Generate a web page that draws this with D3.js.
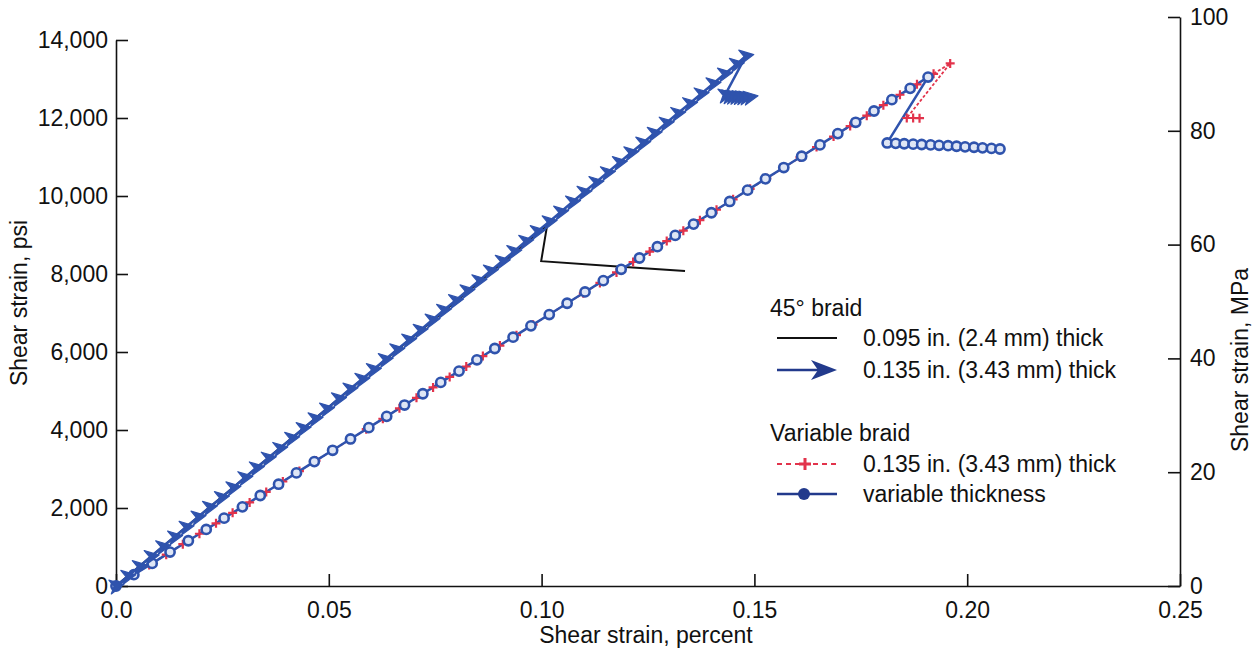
<!DOCTYPE html>
<html>
<head>
<meta charset="utf-8">
<script src="https://cdn.jsdelivr.net/npm/d3@7"></script>
<style>
  body { margin: 0; background: #fff; }
  svg text { font-family: "Liberation Sans", Arial, sans-serif; fill: #111; }
</style>
</head>
<body>
<svg width="1258" height="656"></svg>
<script>
// --- data: [shear strain %, shear stress psi] ---

// 45 deg braid, 0.095 in. thick (black line, no markers)
const braid45Thin = [
  [0, 0], [0.050, 4590], [0.1013, 9250], [0.0999, 8330], [0.1170, 8200], [0.1337, 8077]
];

// 45 deg braid, 0.135 in. thick (blue, arrow markers)
const braid45Thick = [
  [0, 0], [0.0028, 250], [0.0055, 500], [0.0083, 760], [0.0110, 1010], [0.0138, 1260],
  [0.0165, 1510], [0.0193, 1770], [0.0220, 2020], [0.0248, 2270], [0.0275, 2520],
  [0.0303, 2780], [0.0330, 3030], [0.0358, 3280], [0.0385, 3530], [0.0413, 3790],
  [0.0440, 4040], [0.0468, 4290], [0.0495, 4540], [0.0523, 4800], [0.0550, 5050],
  [0.0578, 5300], [0.0605, 5550], [0.0633, 5810], [0.0660, 6060], [0.0688, 6310],
  [0.0715, 6560], [0.0743, 6820], [0.0770, 7070], [0.0798, 7320], [0.0825, 7570],
  [0.0853, 7830], [0.0880, 8080], [0.0908, 8330], [0.0935, 8580], [0.0963, 8840],
  [0.0990, 9090], [0.1018, 9340], [0.1045, 9590], [0.1073, 9850], [0.1100, 10100],
  [0.1128, 10350], [0.1155, 10600], [0.1183, 10860], [0.1210, 11110], [0.1238, 11360],
  [0.1265, 11610], [0.1293, 11870], [0.1320, 12120], [0.1348, 12370], [0.1375, 12620],
  [0.1403, 12880], [0.1430, 13130], [0.1458, 13380], [0.1480, 13590],
  [0.1431, 12590], [0.1440, 12570], [0.1448, 12560], [0.1456, 12555], [0.1464, 12550],
  [0.1472, 12545], [0.1480, 12540], [0.1490, 12535]
];

// variable braid, 0.135 in. thick (red dashed, plus markers)
const varBraidThick = [
  [0, 0], [0.0039, 268], [0.0078, 536], [0.0118, 804], [0.0157, 1072], [0.0196, 1340],
  [0.0235, 1608], [0.0274, 1876], [0.0314, 2144], [0.0353, 2412], [0.0392, 2680],
  [0.0431, 2948], [0.0470, 3216], [0.0510, 3484], [0.0549, 3752], [0.0588, 4020],
  [0.0627, 4288], [0.0666, 4556], [0.0706, 4824], [0.0745, 5092], [0.0784, 5360],
  [0.0823, 5628], [0.0862, 5896], [0.0902, 6164], [0.0941, 6432], [0.0980, 6700],
  [0.1019, 6968], [0.1058, 7236], [0.1098, 7504], [0.1137, 7772], [0.1176, 8040],
  [0.1215, 8308], [0.1254, 8576], [0.1294, 8844], [0.1333, 9112], [0.1372, 9380],
  [0.1411, 9648], [0.1450, 9916], [0.1490, 10184], [0.1529, 10452], [0.1568, 10720],
  [0.1607, 10988], [0.1646, 11256], [0.1686, 11524], [0.1725, 11792], [0.1764, 12060],
  [0.1803, 12328], [0.1842, 12596], [0.1882, 12864], [0.1921, 13132], [0.1960, 13400],
  [0.1858, 12000], [0.1873, 12000], [0.1888, 11995]
];

// variable braid, variable thickness (blue, circle markers)
const varBraidVarThick = [
  [0, 0], [0.0042, 290], [0.0085, 580], [0.0127, 870], [0.0170, 1160], [0.0212, 1450],
  [0.0254, 1740], [0.0297, 2030], [0.0339, 2320], [0.0382, 2610], [0.0424, 2900],
  [0.0466, 3190], [0.0509, 3480], [0.0551, 3770], [0.0594, 4060], [0.0636, 4350],
  [0.0678, 4640], [0.0721, 4930], [0.0763, 5220], [0.0806, 5510], [0.0848, 5800],
  [0.0890, 6090], [0.0933, 6380], [0.0975, 6670], [0.1018, 6960], [0.1060, 7250],
  [0.1102, 7540], [0.1145, 7830], [0.1187, 8120], [0.1230, 8410], [0.1272, 8700],
  [0.1314, 8990], [0.1357, 9280], [0.1399, 9570], [0.1442, 9860], [0.1484, 10150],
  [0.1526, 10440], [0.1569, 10730], [0.1611, 11020], [0.1654, 11310], [0.1696, 11600],
  [0.1738, 11890], [0.1781, 12180], [0.1823, 12470], [0.1866, 12760], [0.1908, 13050],
  [0.1812, 11360], [0.1832, 11350], [0.1852, 11340], [0.1873, 11330], [0.1893, 11320],
  [0.1914, 11310], [0.1934, 11300], [0.1955, 11290], [0.1975, 11275], [0.1995, 11260],
  [0.2016, 11250], [0.2036, 11235], [0.2057, 11220], [0.2077, 11205]
];

// axis ticks
const xTicks = [0, 0.05, 0.10, 0.15, 0.20, 0.25];
const xTickLabels = ["0.0", "0.05", "0.10", "0.15", "0.20", "0.25"];
const psiTicks = [0, 2000, 4000, 6000, 8000, 10000, 12000, 14000];
const mpaTicks = [0, 20, 40, 60, 80, 100];

// legend entries
const legendGroups = ["45\u00b0 braid", "Variable braid"];
const legendLabels = [
  "0.095 in. (2.4 mm) thick",
  "0.135 in. (3.43 mm) thick",
  "0.135 in. (3.43 mm) thick",
  "variable thickness"
];

// --- layout ---
const plotLeft = 116, plotRight = 1180, plotBottom = 586;
const psiTop = 40, mpaTop = 17;
const blue = "#2f53ad", navy = "#223a8c", red = "#e2334b";
const tickFont = "23px", labelFont = "23px";

const svg = d3.select("svg");

// scales
const x = d3.scaleLinear().domain([0, 0.25]).range([plotLeft, plotRight]);
const yPsi = d3.scaleLinear().domain([0, 14000]).range([plotBottom, psiTop]);
const yMpa = d3.scaleLinear().domain([0, 100]).range([plotBottom, mpaTop]);

// X axis (ticks point inward)
const xAxis = svg.append("g")
  .attr("transform", `translate(0, ${plotBottom})`)
  .call(d3.axisBottom(x).tickValues(xTicks)
    .tickFormat((d, i) => xTickLabels[i])
    .tickSizeInner(-12).tickSizeOuter(0).tickPadding(16));

// left axis
const yAxisL = svg.append("g")
  .attr("transform", `translate(${plotLeft}, 0)`)
  .call(d3.axisLeft(yPsi).tickValues(psiTicks)
    .tickFormat(d3.format(","))
    .tickSizeInner(-12).tickSizeOuter(0).tickPadding(8));

// right axis
const yAxisR = svg.append("g")
  .attr("transform", `translate(${plotRight}, 0)`)
  .call(d3.axisRight(yMpa).tickValues(mpaTicks)
    .tickSizeInner(-12).tickSizeOuter(0).tickPadding(10));

[xAxis, yAxisL, yAxisR].forEach(a => {
  a.select(".domain").attr("stroke", "#111").attr("stroke-width", 1.6);
  a.selectAll(".tick line").attr("stroke", "#111").attr("stroke-width", 1.6);
  a.selectAll(".tick text").style("font-size", tickFont).attr("fill", "#111");
});

// axis titles
svg.append("text")
  .attr("x", 646).attr("y", 643)
  .attr("text-anchor", "middle")
  .style("font-size", labelFont)
  .text("Shear strain, percent");

svg.append("text")
  .attr("transform", "translate(27, 303) rotate(-90)")
  .attr("text-anchor", "middle")
  .style("font-size", labelFont)
  .text("Shear strain, psi");

svg.append("text")
  .attr("transform", "translate(1248, 360) rotate(-90)")
  .attr("text-anchor", "middle")
  .style("font-size", labelFont)
  .text("Shear strain, MPa");

// lines
const line = d3.line().x(d => x(d[0])).y(d => yPsi(d[1]));

svg.append("path").datum(braid45Thin)
  .attr("d", line).attr("fill", "none")
  .attr("stroke", "#111").attr("stroke-width", 2);

svg.append("path").datum(varBraidThick)
  .attr("d", line).attr("fill", "none")
  .attr("stroke", red).attr("stroke-width", 1.8)
  .attr("stroke-dasharray", "3,2");

svg.append("path").datum(varBraidVarThick)
  .attr("d", line).attr("fill", "none")
  .attr("stroke", blue).attr("stroke-width", 2.5);

// red plus markers
svg.append("g").selectAll("path")
  .data(varBraidThick).enter().append("path")
  .attr("transform", d => `translate(${x(d[0])}, ${yPsi(d[1])})`)
  .attr("d", "M-4.5,0H4.5M0,-4.5V4.5")
  .attr("stroke", red).attr("stroke-width", 2.2);

// blue open circles
svg.append("g").selectAll("circle")
  .data(varBraidVarThick).enter().append("circle")
  .attr("cx", d => x(d[0]))
  .attr("cy", d => yPsi(d[1]))
  .attr("r", 4.6)
  .attr("fill", "#dfe6f5")
  .attr("stroke", blue).attr("stroke-width", 2.6);

// 45 deg braid thick: line + arrow markers
svg.append("path").datum(braid45Thick)
  .attr("d", line).attr("fill", "none")
  .attr("stroke", blue).attr("stroke-width", 2.6);

svg.append("g").selectAll("path")
  .data(braid45Thick).enter().append("path")
  .attr("transform", d => `translate(${x(d[0])}, ${yPsi(d[1])}) rotate(-10)`)
  .attr("d", "M8,0L-6,-7L-2,0L-6,7Z")
  .attr("fill", blue).attr("stroke", blue).attr("stroke-width", 1.2)
  .attr("stroke-linejoin", "round");

// legend
const legend = svg.append("g");
const lx0 = 777, lx1 = 837, tx = 863;

legend.append("text").attr("x", 770).attr("y", 308).attr("dy", "0.35em")
  .style("font-size", labelFont).text(legendGroups[0]);
legend.append("text").attr("x", 770).attr("y", 433).attr("dy", "0.35em")
  .style("font-size", labelFont).text(legendGroups[1]);

const rowsY = [338, 370, 464, 494];
legendLabels.forEach((t, i) => {
  legend.append("text").attr("x", tx).attr("y", rowsY[i]).attr("dy", "0.35em")
    .style("font-size", labelFont).text(t);
});

// black line
legend.append("line").attr("x1", lx0).attr("x2", lx1)
  .attr("y1", rowsY[0]).attr("y2", rowsY[0])
  .attr("stroke", "#111").attr("stroke-width", 2);

// arrow
legend.append("line").attr("x1", lx0).attr("x2", 818)
  .attr("y1", rowsY[1]).attr("y2", rowsY[1])
  .attr("stroke", navy).attr("stroke-width", 2.5);
legend.append("path")
  .attr("transform", `translate(${lx1}, ${rowsY[1]})`)
  .attr("d", "M0,0L-26,-10L-19,0L-26,10Z")
  .attr("fill", navy);

// red dashed with plus
legend.append("line").attr("x1", lx0).attr("x2", lx1)
  .attr("y1", rowsY[2]).attr("y2", rowsY[2])
  .attr("stroke", red).attr("stroke-width", 2)
  .attr("stroke-dasharray", "5,4");
legend.append("path")
  .attr("transform", `translate(805, ${rowsY[2]})`)
  .attr("d", "M-6,0H6M0,-6V6")
  .attr("stroke", red).attr("stroke-width", 3);

// blue line with dot
legend.append("line").attr("x1", lx0).attr("x2", lx1)
  .attr("y1", rowsY[3]).attr("y2", rowsY[3])
  .attr("stroke", navy).attr("stroke-width", 2.5);
legend.append("circle").attr("cx", 804).attr("cy", rowsY[3]).attr("r", 6)
  .attr("fill", navy);
</script>
</body>
</html>
